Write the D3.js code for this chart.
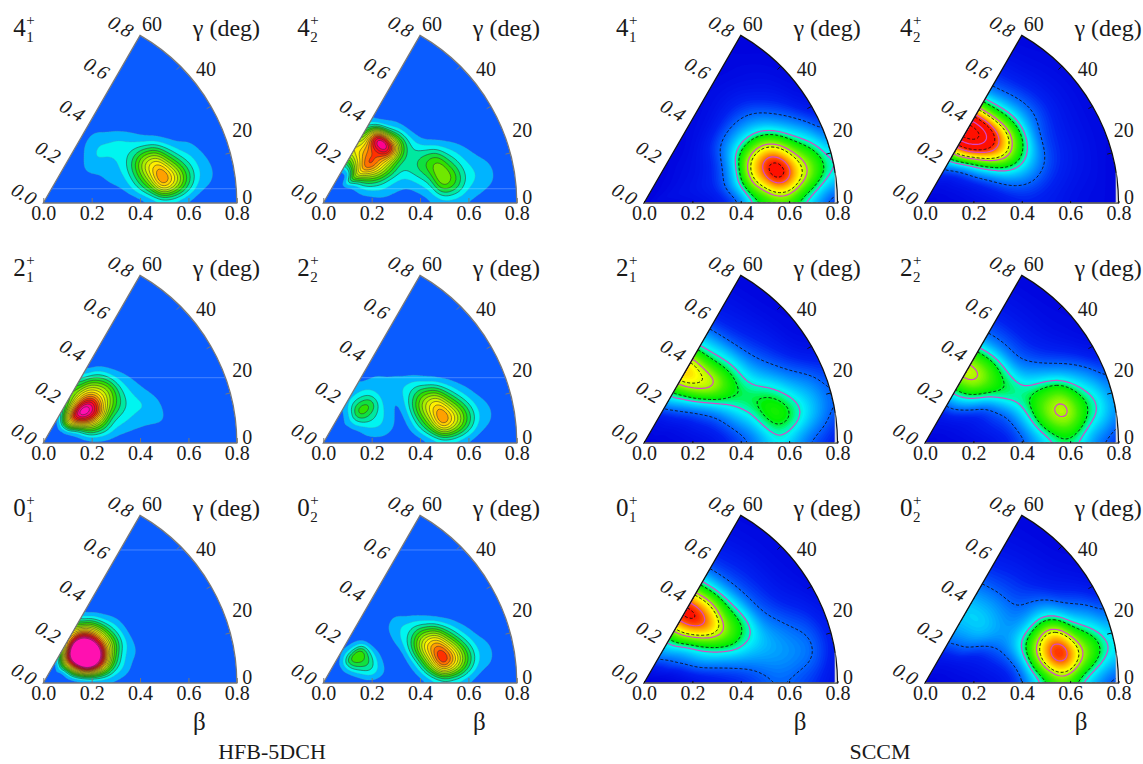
<!DOCTYPE html>
<html>
<head>
<meta charset="utf-8">
<script src="https://cdn.jsdelivr.net/npm/d3@7"></script>
<style>
  body { margin: 0; background: #fff; }
  text { font-family: "Liberation Serif", serif; fill: #1a1a1a; }
</style>
</head>
<body>
<div id="chart"></div>
<script>
// grid the densities were read on: rows are gamma, columns are beta
const betaValues = d3.range(17).map(i => i * 0.05)
const gammaValues = [0, 10, 20, 30, 40, 50, 60]

const betaTicks = [0, 0.2, 0.4, 0.6, 0.8]
const gammaTicks = [0, 20, 40, 60]
const arcTicks = [15, 30, 45]

const hfb41 = [
  [0,0,0,0,0,0,0,0,3,8,9,7,3,0,0,0,0],
  [0,0,0,0,0,0,6,14,34,68,125,100,56,24,13,5,0],
  [0,0,0,0,0,6,14,20,46,86,95,52,24,14,6,0,0],
  [0,0,0,0,5,11,14,20,28,30,20,8,0,0,0,0,0],
  [0,0,0,0,5,16,21,22,21,11,3,0,0,0,0,0,0],
  [0,0,0,0,0,8,16,16,6,0,0,0,0,0,0,0,0],
  [0,0,0,0,0,0,3,3,0,0,0,0,0,0,0,0,0]
]
const hfb42 = [
  [0,0,0,0,4,5,3,2,3,8,10,9,7,4,0,0,0],
  [0,0,0,7,13,16,12,10,17,32,70,58,30,20,14,4,0],
  [0,0,0,12,30,36,30,26,36,52,62,35,18,8,2,0,0],
  [0,0,3,22,60,85,78,55,36,26,12,4,0,0,0,0,0],
  [0,0,4,45,100,135,130,165,70,18,2,0,0,0,0,0,0],
  [0,0,5,12,70,110,125,165,35,8,0,0,0,0,0,0,0],
  [0,0,2,10,50,90,70,30,10,0,0,0,0,0,0,0,0]
]
const hfb21 = [
  [0,0,0,4,6,6,4,0,0,0,0,0,0,0,0,0,0],
  [0,0,3,12,32,30,18,14,11,10,10,5,0,0,0,0,0],
  [0,0,8,35,80,75,40,28,22,20,12,2,0,0,0,0,0],
  [0,0,15,90,150,145,85,50,25,14,3,0,0,0,0,0,0],
  [0,0,20,115,180,165,105,65,24,8,0,0,0,0,0,0,0],
  [0,0,14,80,110,105,80,42,12,1,0,0,0,0,0,0,0],
  [0,0,5,30,50,55,30,8,0,0,0,0,0,0,0,0,0]
]
const hfb22 = [
  [0,0,0,0,3,3,0,0,2,8,9,7,3,0,0,0,0],
  [0,0,0,5,13,14,8,7,30,68,125,100,58,24,12,5,0],
  [0,0,0,10,22,22,12,9,44,84,95,52,22,8,3,0,0],
  [0,0,0,20,38,32,16,10,26,34,20,6,0,0,0,0,0],
  [0,0,5,22,56,50,20,14,14,6,0,0,0,0,0,0,0],
  [0,0,3,15,38,30,17,12,4,0,0,0,0,0,0,0,0],
  [0,0,0,8,16,14,8,2,0,0,0,0,0,0,0,0,0]
]
const hfb01 = [
  [0,0,2,6,8,8,6,3,0,0,0,0,0,0,0,0,0],
  [0,0,8,40,70,60,30,14,3,0,0,0,0,0,0,0,0],
  [0,0,15,100,190,160,70,25,12,0,0,0,0,0,0,0,0],
  [0,0,25,150,270,220,110,45,13,0,0,0,0,0,0,0,0],
  [0,0,35,165,280,210,110,40,12,0,0,0,0,0,0,0,0],
  [0,0,25,130,200,160,80,22,2,0,0,0,0,0,0,0,0],
  [0,0,10,60,100,85,30,3,0,0,0,0,0,0,0,0,0]
]
const hfb02 = [
  [0,0,0,4,5,2,0,0,3,9,10,8,4,0,0,0,0],
  [0,0,2,12,22,11,1,4,26,78,145,115,62,24,13,4,0],
  [0,0,6,28,38,14,0,9,48,100,110,60,24,8,3,0,0],
  [0,0,10,45,50,14,0,14,28,36,22,6,0,0,0,0,0],
  [0,0,10,52,58,8,0,10,15,5,0,0,0,0,0,0,0],
  [0,0,8,28,18,3,0,0,0,0,0,0,0,0,0,0,0],
  [0,0,3,8,4,0,0,0,0,0,0,0,0,0,0,0,0]
]

const sccm41 = [
  [1,1,2,3,4,5,7,10,16,32,38,40,38,30,20,10,4],
  [1,3,4,5,6,8,11,20,36,58,72,90,90,74,63,50,42],
  [1,3,4,5,6,8,11,18,33,60,76,84,74,55,42,33,20],
  [1,2,3,4,5,6,9,14,26,36,41,40,33,24,17,10,6],
  [1,2,2,3,4,5,7,11,15,18,19,18,15,11,8,5,3],
  [1,1,2,2,3,3,4,5,6,7,8,8,7,5,4,3,2],
  [1,1,1,1,2,2,2,3,3,3,3,3,2,2,2,1,1]
]
const sccm42 = [
  [1,1,2,3,4,5,6,8,9,9,8,7,5,4,3,3,2],
  [1,2,3,4,6,8,11,15,17,16,13,10,8,6,5,3,2],
  [1,2,3,5,8,13,21,30,33,30,22,15,11,8,6,4,3],
  [1,2,4,7,12,25,42,58,60,47,33,16,12,8,6,4,3],
  [1,3,4,8,18,40,70,86,80,62,40,25,16,11,7,5,3],
  [1,3,5,11,27,62,92,103,92,60,38,22,14,9,6,4,3],
  [2,3,6,14,36,70,98,105,92,58,33,18,12,8,5,3,2]
]
const sccm21 = [
  [1,1,2,3,4,5,7,10,14,18,24,30,26,18,12,9,6],
  [1,2,3,4,6,8,11,16,22,29,40,47,47,41,33,25,18],
  [1,2,3,5,8,12,16,24,34,40,44,44,38,30,25,21,16],
  [1,3,4,7,11,18,28,41,44,42,35,28,21,15,10,6,4],
  [1,3,5,9,17,30,48,60,58,44,34,21,14,10,7,4,3],
  [1,3,5,11,24,40,60,66,56,40,30,17,11,8,5,3,2],
  [1,3,6,14,30,46,66,72,60,39,28,16,10,7,5,3,2]
]
const sccm22 = [
  [1,1,2,3,4,5,7,10,15,21,27,33,34,28,17,12,8],
  [1,2,3,4,6,8,11,14,22,35,50,60,62,53,43,36,26],
  [1,2,3,5,7,10,14,18,30,41,50,55,55,43,33,26,18],
  [1,2,4,6,9,13,19,33,41,38,33,28,21,16,12,7,4],
  [1,3,4,8,15,27,39,47,44,36,21,15,11,8,5,4,3],
  [1,3,5,10,23,38,54,59,52,39,22,15,10,7,5,3,2],
  [1,3,5,11,25,41,56,63,52,37,21,15,10,7,5,3,2]
]
const sccm01 = [
  [1,1,2,3,5,7,8,9,10,12,15,17,16,13,10,7,4],
  [1,2,3,6,10,13,15,17,19,21,23,24,24,23,21,15,9],
  [1,2,5,10,17,24,29,33,36,34,31,27,23,19,16,12,8],
  [1,3,9,16,23,32,42,52,54,46,37,21,15,11,8,6,3],
  [1,4,11,19,28,42,62,74,64,46,33,18,13,9,6,4,3],
  [1,4,13,23,36,56,78,86,72,52,30,17,12,9,6,4,3],
  [1,5,15,26,38,60,80,88,72,48,30,16,11,8,5,4,2]
]
const sccm02 = [
  [1,1,2,3,4,5,6,9,16,26,34,41,38,27,18,11,8],
  [1,2,3,4,5,7,9,13,22,45,68,88,88,70,58,46,38],
  [1,2,3,5,7,9,13,18,30,47,63,74,65,44,34,27,20],
  [1,2,4,6,9,12,17,22,24,25,28,31,26,17,13,10,6],
  [1,3,4,8,15,21,27,28,25,21,17,14,11,8,6,4,3],
  [1,3,5,10,17,24,29,31,27,22,16,13,10,7,5,3,2],
  [1,3,6,11,20,25,29,30,26,20,15,11,8,6,4,3,2]
]

const hfbStops = [0, 10, 20, 30, 40, 50, 60, 70, 80, 90, 100, 110, 120, 130, 140, 150, 160, 170]
const hfbColors = ['#0a5cff', '#00b4ff', '#00f5f0', '#00e8a0', '#10e040', '#30e000', '#70e800', '#a8f000', '#d8f000', '#fff000', '#ffd000', '#ffa000', '#ff7000', '#ff3000', '#ff1010', '#ff0040', '#ff0090', '#ff10b0']
const sccmStops = [0, 10, 18, 26, 33, 38, 43, 50, 58, 65, 72, 78, 84]
const sccmColors = ['#0000dc', '#0020f0', '#0068ff', '#00b0ff', '#00f0f8', '#00f8a0', '#00f000', '#40f000', '#a8f800', '#ffff00', '#ffb000', '#ff6000', '#ff1000']
const dashedLevels = [18, 42, 63, 84, 100]
const magentaLevels = [36, 58, 78, 94]

const width = 1143, height = 764
const radius = 193.5
const upscale = 8

const rowY = [203, 443, 683]
const colX = [43.3, 323.3, 644, 925]
const stateDx = [-30, -26, -28, -25]

const panels = [
  {state: '4', idx: '1', row: 0, col: 0, kind: 'hfb', grid: hfb41, seam: 0.059},
  {state: '4', idx: '2', row: 0, col: 1, kind: 'hfb', grid: hfb42, seam: 0.059},
  {state: '4', idx: '1', row: 0, col: 2, kind: 'sccm', grid: sccm41},
  {state: '4', idx: '2', row: 0, col: 3, kind: 'sccm', grid: sccm42},
  {state: '2', idx: '1', row: 1, col: 0, kind: 'hfb', grid: hfb21, seam: 0.27},
  {state: '2', idx: '2', row: 1, col: 1, kind: 'hfb', grid: hfb22, seam: 0.27},
  {state: '2', idx: '1', row: 1, col: 2, kind: 'sccm', grid: sccm21},
  {state: '2', idx: '2', row: 1, col: 3, kind: 'sccm', grid: sccm22},
  {state: '0', idx: '1', row: 2, col: 0, kind: 'hfb', grid: hfb01, seam: 0.55},
  {state: '0', idx: '2', row: 2, col: 1, kind: 'hfb', grid: hfb02, seam: 0.55},
  {state: '0', idx: '1', row: 2, col: 2, kind: 'sccm', grid: sccm01},
  {state: '0', idx: '2', row: 2, col: 3, kind: 'sccm', grid: sccm02}
]

const rScale = d3.scaleLinear().domain([0, 0.8]).range([0, radius])
const angleScale = d3.scaleLinear().domain([0, 60]).range([0, Math.PI / 3])
const polar = (b, g) => [rScale(b) * Math.cos(angleScale(g)), -rScale(b) * Math.sin(angleScale(g))]

const hfbColor = d3.scaleLinear().domain(hfbStops).range(hfbColors).clamp(true)
const sccmColor = d3.scaleLinear().domain(sccmStops).range(sccmColors).clamp(true)

function catmull(p0, p1, p2, p3, t) {
  return 0.5 * (2 * p1 + (p2 - p0) * t + (2 * p0 - 5 * p1 + 4 * p2 - p3) * t * t + (3 * p1 - p0 - 3 * p2 + p3) * t * t * t)
}

// finer copy of a panel grid so the contours come out round
function refine(grid, blur) {
  const cols = betaValues.length, rows = gammaValues.length
  const nx = (cols - 1) * upscale + 1
  const ny = (rows - 1) * upscale + 1
  const cx = i => Math.max(0, Math.min(cols - 1, i))
  const cy = j => Math.max(0, Math.min(rows - 1, j))
  const data = new Float64Array(nx * ny)
  for (let j = 0; j < ny; j++) {
    const j0 = Math.min(Math.floor(j / upscale), rows - 2)
    const tj = j / upscale - j0
    for (let i = 0; i < nx; i++) {
      const i0 = Math.min(Math.floor(i / upscale), cols - 2)
      const ti = i / upscale - i0
      const across = [-1, 0, 1, 2].map(dj => {
        const r = grid[cy(j0 + dj)]
        return catmull(r[cx(i0 - 1)], r[cx(i0)], r[cx(i0 + 1)], r[cx(i0 + 2)], ti)
      })
      data[i + j * nx] = Math.max(0, catmull(across[0], across[1], across[2], across[3], tj))
    }
  }
  d3.blur2({data, width: nx, height: ny}, blur, blur)
  return {data, nx, ny}
}

const svg = d3.select('#chart').append('svg')
  .attr('width', width)
  .attr('height', height)
  .attr('viewBox', [0, 0, width, height])
  .style('display', 'block')

const sector = d3.arc()
  .innerRadius(0)
  .outerRadius(radius)
  .startAngle(Math.PI / 2 - angleScale(60))
  .endAngle(Math.PI / 2)

panels.forEach((p, n) => {
  const ox = colX[p.col], oy = rowY[p.row]
  const g = svg.append('g').attr('transform', `translate(${ox},${oy})`)
  const isHfb = p.kind === 'hfb'
  const clipId = `clip${n}`

  const clip = svg.append('clipPath').attr('id', clipId)
  if (isHfb) {
    clip.append('path').attr('d', sector())
  } else {
    // the SCCM maps stop a little short of the rim near gamma = 0
    clip.append('path').attr('d', sector())
      .attr('clip-path', `url(#${clipId}b)`)
    svg.append('clipPath').attr('id', `${clipId}b`)
      .append('rect')
      .attr('x', -5).attr('y', -radius)
      .attr('width', rScale(0.79) + 5).attr('height', radius + 2)
  }

  const {data, nx, ny} = refine(p.grid, isHfb ? 1.5 : 3)
  const xToBeta = d3.scaleLinear().domain([0.5, nx - 0.5]).range([0, 0.8]).clamp(true)
  const yToGamma = d3.scaleLinear().domain([0.5, ny - 0.5]).range([0, 60]).clamp(true)
  const path = d3.geoPath(d3.geoTransform({
    point(x, y) {
      const [px, py] = polar(xToBeta(x), yToGamma(y))
      this.stream.point(px, py)
    }
  }))
  const contours = d3.contours().size([nx, ny]).smooth(true)

  const field = g.append('g').attr('clip-path', `url(#${clipId})`)
  field.append('path').attr('d', sector())
    .attr('fill', isHfb ? hfbColors[0] : sccmColors[0])

  if (isHfb) {
    const levels = d3.range(10, 180, 10)
    field.selectAll('path.band')
      .data(contours.thresholds(levels)(data))
      .join('path')
      .attr('class', 'band')
      .attr('d', path)
      .attr('fill', d => hfbColor(d.value))
      .attr('stroke', d => d.value >= 30 ? '#333' : '#5aa')
      .attr('stroke-width', d => d.value >= 30 ? 0.55 : 0.3)
    // faint plotting seam that runs across the map
    field.append('line')
      .attr('x1', 0).attr('x2', radius)
      .attr('y1', -rScale(p.seam)).attr('y2', -rScale(p.seam))
      .attr('stroke', '#fff').attr('stroke-opacity', 0.25)
  } else {
    const levels = d3.range(1, 108, 1)
    field.selectAll('path.band')
      .data(contours.thresholds(levels)(data))
      .join('path')
      .attr('class', 'band')
      .attr('d', path)
      .attr('fill', d => sccmColor(d.value))
    field.selectAll('path.magenta')
      .data(contours.thresholds(magentaLevels)(data))
      .join('path')
      .attr('class', 'magenta')
      .attr('d', path)
      .attr('fill', 'none')
      .attr('stroke', '#d548c8')
      .attr('stroke-width', 1.2)
    field.selectAll('path.dashed')
      .data(contours.thresholds(dashedLevels)(data))
      .join('path')
      .attr('class', 'dashed')
      .attr('d', path)
      .attr('fill', 'none')
      .attr('stroke', '#111')
      .attr('stroke-width', 0.9)
      .attr('stroke-dasharray', '3,2')
  }

  // rim and the gamma = 60 edge
  const rim = isHfb ? '#777' : '#111'
  g.append('path').attr('d', sector())
    .attr('fill', 'none')
    .attr('stroke', rim)
    .attr('stroke-width', 1.3)
  if (!isHfb) {
    g.append('line')
      .attr('x1', 0).attr('y1', 0).attr('x2', rScale(0.8)).attr('y2', 0)
      .attr('stroke', '#999').attr('stroke-width', 1)
    g.append('line')
      .attr('x1', rScale(0.79)).attr('y1', 0)
      .attr('x2', rScale(0.79)).attr('y2', polar(0.8, 9)[1])
      .attr('stroke', '#bbb').attr('stroke-width', 0.8)
  }

  arcTicks.forEach(t => {
    const [x1, y1] = polar(0.8, t), [x2, y2] = polar(0.78, t)
    g.append('line')
      .attr('x1', x1).attr('y1', y1).attr('x2', x2).attr('y2', y2)
      .attr('stroke', rim).attr('stroke-width', 1)
  })

  const axis = d3.axisBottom(rScale)
    .tickValues(betaTicks)
    .tickFormat(d3.format('.1f'))
    .tickSizeOuter(0)
    .tickSizeInner(isHfb ? -5 : -2)
    .tickPadding(3)
  const ag = g.append('g').call(axis)
  ag.select('.domain').remove()
  ag.selectAll('line').attr('stroke', rim)
  ag.selectAll('text')
    .attr('fill', null)
    .attr('font-family', null)
    .style('font-size', '20px')
    .attr('dy', '0.72em')

  // beta labels along the gamma = 60 edge
  betaTicks.forEach(b => {
    const [x, y] = polar(b, 60)
    g.append('text')
      .attr('transform', `translate(${x - 19},${y - 9}) rotate(30) skewX(-10)`)
      .attr('text-anchor', 'middle')
      .attr('dy', '0.35em')
      .style('font-size', '20px')
      .text(d3.format('.1f')(b))
  })

  const gammaOffset = {60: [12, -11], 40: [14.5, -10], 20: [17, -7], 0: [10.5, -6]}
  gammaTicks.forEach(t => {
    const [x, y] = polar(0.8, t)
    g.append('text')
      .attr('x', x + gammaOffset[t][0])
      .attr('y', y + gammaOffset[t][1])
      .attr('text-anchor', 'middle')
      .attr('dy', '0.35em')
      .style('font-size', '20px')
      .text(t)
  })

  g.append('text')
    .attr('x', 149.5)
    .attr('y', -167)
    .style('font-size', '24px')
    .text('γ (deg)')

  const sx = stateDx[p.col]
  g.append('text').attr('x', sx).attr('y', -167).style('font-size', '25px').text(p.state)
  g.append('text').attr('x', sx + 13).attr('y', -178).style('font-size', '15px').text('+')
  g.append('text').attr('x', sx + 13).attr('y', -161).style('font-size', '15px').text(p.idx)

  if (p.row === 2) {
    g.append('text')
      .attr('x', 156)
      .attr('y', 47)
      .attr('text-anchor', 'middle')
      .style('font-size', '25px')
      .text('β')
  }
})

svg.append('text').attr('x', 272).attr('y', 759).attr('text-anchor', 'middle').style('font-size', '22px').text('HFB-5DCH')
svg.append('text').attr('x', 880).attr('y', 759).attr('text-anchor', 'middle').style('font-size', '22px').text('SCCM')
</script>
</body>
</html>
